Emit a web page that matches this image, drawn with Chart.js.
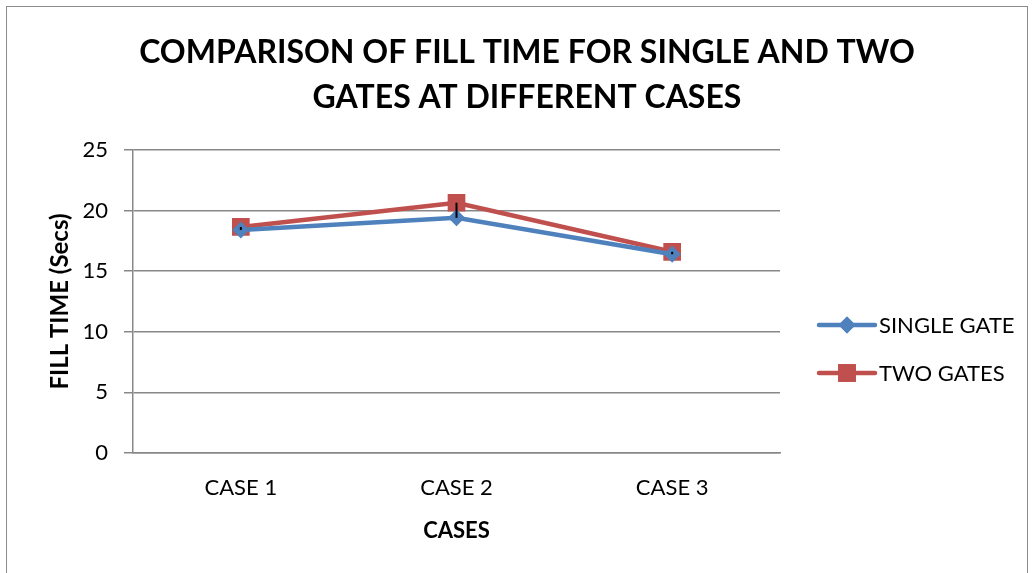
<!DOCTYPE html>
<html>
<head>
<meta charset="utf-8">
<script src="https://cdn.jsdelivr.net/npm/chart.js@4.4.1/dist/chart.umd.min.js"></script>
<style>
  html, body { margin: 0; padding: 0; background: #fff; }
  #wrap { position: relative; width: 1034px; height: 573px; overflow: hidden; }
  #frame { position: absolute; left: 6px; top: 6px; width: 1022px; height: 600px; border: 1.5px solid #8c8c8c; box-sizing: border-box; pointer-events: none; }
  canvas { display: block; }
</style>
</head>
<body>
<div id="wrap">
  <canvas id="c" width="1034" height="573"></canvas>
  <div id="frame"></div>
</div>
<script>
// Fill time (seconds) per moulding case
const categories = ['CASE 1', 'CASE 2', 'CASE 3'];
const singleGate = [18.4, 19.4, 16.4];
const twoGates = [18.65, 20.65, 16.6];
const seriesNames = ['SINGLE GATE', 'TWO GATES'];
const yTicks = [0, 5, 10, 15, 20, 25];
const titleLines = ['COMPARISON OF FILL TIME FOR SINGLE AND TWO', 'GATES AT DIFFERENT CASES'];

const BLUE = '#4F81BD';
const RED = '#C0504D';
const FONT = 'Lato, "Open Sans", sans-serif';

// Two-line chart heading
const heading = {
  id: 'heading',
  afterDraw(chart) {
    const ctx = chart.ctx;
    ctx.save();
    ctx.fillStyle = '#000';
    ctx.font = 'bold 32px ' + FONT;
    ctx.textAlign = 'center';
    ctx.textBaseline = 'middle';
    titleLines.forEach((t, i) => ctx.fillText(t, 527, 53 + i * 45));
    ctx.restore();
  }
};

// Thin black high-low lines joining the two series at each case
const highLow = {
  id: 'highLow',
  afterDatasetsDraw(chart) {
    const ctx = chart.ctx;
    const xs = chart.scales.x, ys = chart.scales.y;
    ctx.save();
    ctx.strokeStyle = '#000';
    ctx.lineWidth = 2;
    categories.forEach((c, i) => {
      const x = xs.getPixelForValue(i);
      ctx.beginPath();
      ctx.moveTo(x, ys.getPixelForValue(twoGates[i]));
      ctx.lineTo(x, ys.getPixelForValue(singleGate[i]));
      ctx.stroke();
    });
    ctx.restore();
  }
};

// Legend drawn as a short line with the series marker in its middle
const lineLegend = {
  id: 'lineLegend',
  afterDraw(chart) {
    const ctx = chart.ctx;
    const area = chart.chartArea;
    const x0 = area.right + 39;
    ctx.save();
    chart.data.datasets.forEach((ds, i) => {
      const y = area.top + 175 + i * 48;
      ctx.strokeStyle = ds.borderColor;
      ctx.lineWidth = 4.5;
      ctx.lineCap = 'round';
      ctx.beginPath();
      ctx.moveTo(x0, y);
      ctx.lineTo(x0 + 56, y);
      ctx.stroke();
      ctx.fillStyle = ds.backgroundColor;
      Chart.helpers.drawPoint(ctx, {
        pointStyle: ds.pointStyle,
        radius: ds.pointRadius,
        rotation: 0,
        borderWidth: 0
      }, x0 + 28, y);
      ctx.fill();
      ctx.fillStyle = '#000';
      ctx.font = '22px ' + FONT;
      ctx.textBaseline = 'middle';
      ctx.textAlign = 'left';
      ctx.fillText(ds.label, x0 + 60, y + 1);
    });
    ctx.restore();
  }
};

new Chart(document.getElementById('c'), {
  type: 'line',
  data: {
    labels: categories,
    datasets: [
      {
        label: seriesNames[0],
        data: singleGate,
        borderColor: BLUE,
        backgroundColor: BLUE,
        borderWidth: 4.5,
        pointStyle: 'rectRot',
        pointRadius: 8.5,
        pointBorderWidth: 0,
        tension: 0
      },
      {
        label: seriesNames[1],
        data: twoGates,
        borderColor: RED,
        backgroundColor: RED,
        borderWidth: 4.5,
        pointStyle: 'rect',
        pointRadius: 12.5,
        pointBorderWidth: 0,
        tension: 0
      }
    ]
  },
  options: {
    responsive: false,
    animation: false,
    layout: { padding: { left: 0, right: 254, top: 150, bottom: 0 } },
    plugins: {
      legend: { display: false },
      tooltip: { enabled: false },
      title: { display: false }
    },
    scales: {
      x: {
        offset: true,
        grid: { display: false, drawTicks: false, offset: true },
        border: { color: '#888', width: 1.5 },
        ticks: { color: '#000', font: { family: FONT, size: 22 }, padding: 22 },
        title: { display: true, text: 'CASES', color: '#000', font: { family: FONT, size: 22, weight: 'bold' }, padding: { top: 4, bottom: 29 } },
        afterFit(s) { s.height = 120; }
      },
      y: {
        min: 0,
        max: 25,
        afterBuildTicks(s) { s.ticks = yTicks.map(v => ({ value: v })); },
        grid: { color: '#888', lineWidth: 1.5, tickLength: 9 },
        border: { color: '#888', width: 1.5 },
        ticks: { color: '#000', font: { family: FONT, size: 22 }, padding: 16 },
        title: { display: true, text: 'FILL TIME (Secs)', color: '#000', font: { family: FONT, size: 24, weight: 'bold' }, padding: { top: 46, bottom: 0 } },
        afterFit(s) { s.width = 133; }
      }
    }
  },
  plugins: [highLow, lineLegend, heading]
});
</script>
</body>
</html>
